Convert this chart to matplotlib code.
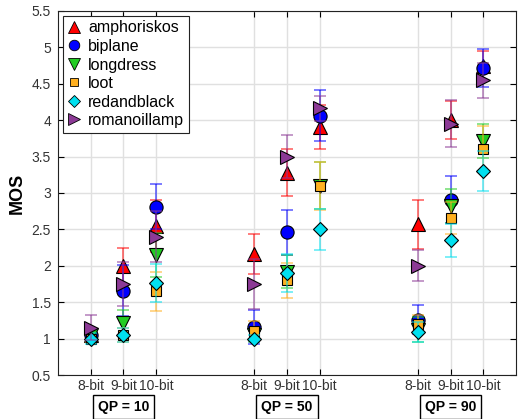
import matplotlib.pyplot as plt
import numpy as np

plt.rcParams['font.family'] = ['Liberation Sans', 'DejaVu Sans']

# x positions: 8/9/10-bit for QP = 10, 50, 90
positions = [1, 2, 3, 6, 7, 8, 11, 12, 13]
bit_labels = ['8-bit', '9-bit', '10-bit'] * 3
qp_labels = ['QP = 10', 'QP = 50', 'QP = 90']
qp_centers = [2, 7, 12]

names = ['amphoriskos', 'biplane', 'longdress', 'loot', 'redandblack', 'romanoillamp']

amphoriskos = [1.05, 2.00, 2.55, 2.16, 3.28, 3.91, 2.57, 4.00, 4.75]
amphoriskos_err = [0.10, 0.25, 0.36, 0.27, 0.32, 0.30, 0.34, 0.26, 0.20]
biplane = [1.05, 1.66, 2.81, 1.16, 2.46, 4.06, 1.26, 2.91, 4.71]
biplane_err = [0.08, 0.35, 0.31, 0.23, 0.31, 0.35, 0.20, 0.32, 0.26]
longdress = [1.05, 1.21, 2.15, 1.05, 1.92, 3.10, 1.12, 2.82, 3.71]
longdress_err = [0.07, 0.18, 0.30, 0.08, 0.23, 0.32, 0.17, 0.23, 0.23]
loot = [1.00, 1.05, 1.65, 1.10, 1.80, 3.10, 1.20, 2.65, 3.61]
loot_err = [0.05, 0.10, 0.27, 0.14, 0.24, 0.33, 0.12, 0.22, 0.31]
redandblack = [1.00, 1.05, 1.76, 1.00, 1.90, 2.50, 1.09, 2.35, 3.30]
redandblack_err = [0.07, 0.10, 0.26, 0.05, 0.26, 0.28, 0.14, 0.23, 0.27]
romanoillamp = [1.15, 1.75, 2.40, 1.75, 3.50, 4.16, 2.00, 3.95, 4.55]
romanoillamp_err = [0.17, 0.30, 0.35, 0.34, 0.29, 0.17, 0.21, 0.32, 0.24]

values = [amphoriskos, biplane, longdress, loot, redandblack, romanoillamp]
errors = [amphoriskos_err, biplane_err, longdress_err, loot_err, redandblack_err, romanoillamp_err]
colors = ['#FF0000', '#0000FF', '#22CC22', '#FFB020', '#00E0F0', '#8C3A96']
markers = ['^', 'o', 'v', 's', 'D', '>']
msizes = [10, 9.5, 10, 7.5, 7.5, 10]

fig = plt.figure(figsize=(5.2, 4.19), dpi=100)
ax = fig.add_axes([0.1115, 0.105, 0.881, 0.869])

for i in range(len(names)):
    ax.errorbar(positions, values[i], yerr=errors[i], fmt='none', ecolor=colors[i],
                alpha=0.6, elinewidth=1.2, capsize=4, capthick=1.2, zorder=3 + 2 * i)
    ax.plot(positions, values[i], linestyle='none', marker=markers[i],
            markersize=msizes[i], markerfacecolor=colors[i], markeredgecolor='black',
            markeredgewidth=0.8, zorder=4 + 2 * i, label=names[i])

ax.set_xlim(0, 14)
ax.set_ylim(0.5, 5.5)
ax.set_xticks(positions)
ax.set_xticklabels(bit_labels, fontsize=10, color='#333333')
ax.set_yticks(np.arange(0.5, 5.51, 0.5))
ax.set_yticklabels(['0.5', '1', '1.5', '2', '2.5', '3', '3.5', '4', '4.5', '5', '5.5'],
                   fontsize=10, color='#333333')
ax.tick_params(direction='in', top=True, right=True, length=4)
ax.tick_params(axis='x', pad=3)
ax.tick_params(axis='y', pad=5)
ax.grid(True, color='#E0E0E0', linewidth=1)
ax.set_axisbelow(True)
for s in ax.spines.values():
    s.set_color('#222222')
ax.set_ylabel('MOS', fontsize=13, fontweight='bold', labelpad=4)

for c, lab in zip(qp_centers, qp_labels):
    ax.text(c, -0.088, lab, transform=ax.get_xaxis_transform(), ha='center', va='center',
            fontsize=10, fontweight='bold',
            bbox=dict(boxstyle='square,pad=0.35', facecolor='white', edgecolor='black', linewidth=1))

leg_handles = [plt.Line2D([], [], linestyle='none', marker=markers[i], markersize=msizes[i] * 0.8,
                          markerfacecolor=colors[i], markeredgecolor='black', markeredgewidth=0.6)
               for i in range(len(names))]
leg = ax.legend(leg_handles, names, loc='upper left', fontsize=11.5, frameon=True, fancybox=False,
                edgecolor='#222222', handlelength=0.8, handletextpad=0.5, labelspacing=0.22,
                borderpad=0.3, borderaxespad=0.3, framealpha=1)
leg.get_frame().set_linewidth(0.8)

fig.savefig('out.png', dpi=100)
